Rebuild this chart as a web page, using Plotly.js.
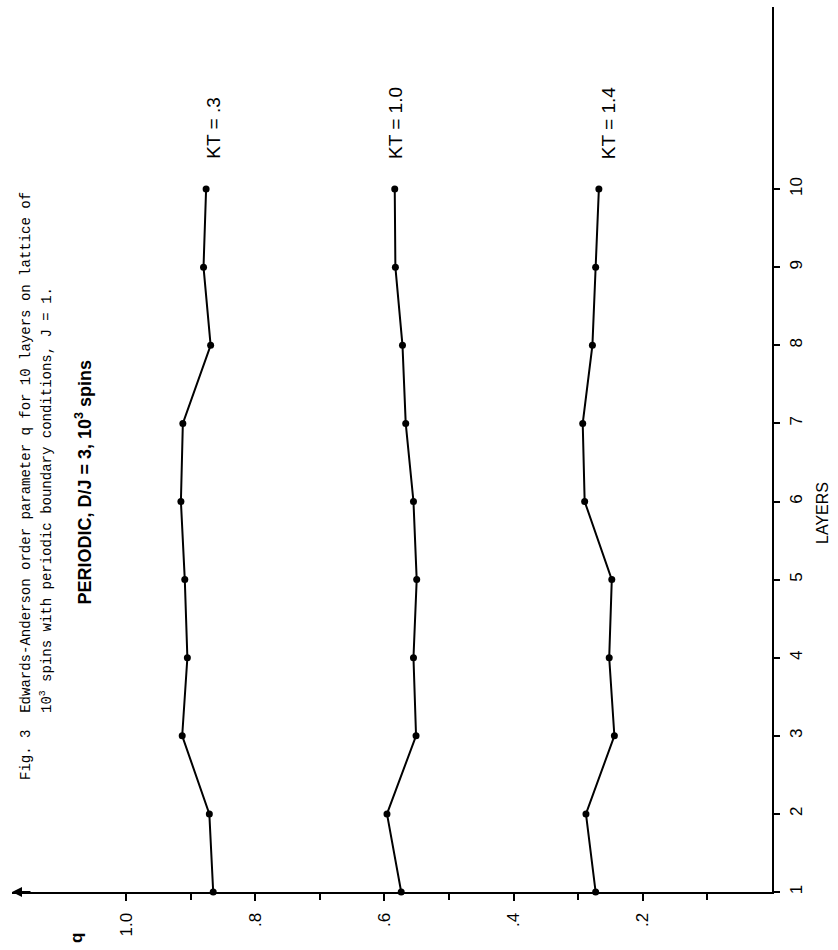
<!DOCTYPE html>
<html>
<head>
<meta charset="utf-8">
<script src="https://cdn.plot.ly/plotly-3.0.1.min.js"></script>
<style>html,body{margin:0;padding:0;background:#fff;}#chart{width:838px;height:950px;}</style>
</head>
<body>
<div id="chart"></div>
<script>
// ---- data ----
const layers = [1, 2, 3, 4, 5, 6, 7, 8, 9, 10];
const q_kt03 = [0.865, 0.871, 0.913, 0.905, 0.909, 0.915, 0.912, 0.869, 0.880, 0.876];
const q_kt10 = [0.574, 0.596, 0.551, 0.555, 0.550, 0.555, 0.567, 0.572, 0.583, 0.584];
const q_kt14 = [0.273, 0.288, 0.244, 0.252, 0.248, 0.290, 0.293, 0.278, 0.273, 0.268];
const seriesLabels = ['KT = .3', 'KT = 1.0', 'KT = 1.4'];
const labelQ = [0.865, 0.582, 0.252];
const labelLayer = 10.36;
const qTickVals = [0.2, 0.4, 0.6, 0.8, 1.0];
const qTickText = ['.2', '.4', '.6', '.8', '1.0'];
const qMinorVals = [0.1, 0.3, 0.5, 0.7, 0.9];
const layerTickVals = [1, 2, 3, 4, 5, 6, 7, 8, 9, 10];
const layerTickText = ['1', '2', '3', '4', '5', '6', '7', '8', '9', '10'];

// ---- layout geometry ----
const W = 838, H = 950, ML = 12, MR = 66, MT = 7, MB = 58;
const PW = W - ML - MR, PH = H - MT - MB;
function px(x) { return (x - ML) / PW; }
function py(y) { return (H - MB - y) / PH; }

const SANS = 'Liberation Sans, Arial, Helvetica, sans-serif';
const MONO = 'Liberation Mono, Courier New, monospace';
const INK = '#000';

const lineStyle = {color: INK, width: 2};
const markerStyle = {color: INK, size: 7, symbol: 'circle'};
const qs = [q_kt03, q_kt10, q_kt14];
const traces = qs.map((q, i) => ({
  type: 'scatter', mode: 'lines+markers', x: q, y: layers,
  line: lineStyle, marker: markerStyle, cliponaxis: false,
  name: seriesLabels[i], showlegend: false, hoverinfo: 'x+y'
}));

const annotations = [];
seriesLabels.forEach((t, i) => {
  annotations.push({x: labelQ[i], y: labelLayer, xref: 'x', yref: 'y', text: t,
    textangle: -90, showarrow: false, xanchor: 'center', yanchor: 'bottom',
    font: {family: SANS, size: 19, color: INK}});
});
// caption
annotations.push({x: px(26), y: py(782), xref: 'paper', yref: 'paper',
  text: 'Fig. 3&nbsp;&nbsp;Edwards-Anderson order parameter q for 10 layers on lattice of',
  textangle: -90, showarrow: false, xanchor: 'center', yanchor: 'bottom',
  font: {family: MONO, size: 14, color: INK}});
annotations.push({x: px(46), y: py(715), xref: 'paper', yref: 'paper',
  text: '10<sup>3</sup> spins with periodic boundary conditions, J = 1.',
  textangle: -90, showarrow: false, xanchor: 'center', yanchor: 'bottom',
  font: {family: MONO, size: 14, color: INK}});
annotations.push({x: px(84), y: py(607), xref: 'paper', yref: 'paper',
  text: '<b>PERIODIC, D/J = 3, 10<sup>3</sup> spins</b>',
  textangle: -90, showarrow: false, xanchor: 'center', yanchor: 'bottom',
  font: {family: SANS, size: 18, color: INK}});
// axis titles
annotations.push({x: px(77), y: py(938), xref: 'paper', yref: 'paper', text: '<b>q</b>',
  textangle: -90, showarrow: false, xanchor: 'center', yanchor: 'middle',
  font: {family: SANS, size: 17, color: INK}});
annotations.push({x: px(822), y: py(513), xref: 'paper', yref: 'paper', text: 'LAYERS',
  textangle: -90, showarrow: false, xanchor: 'center', yanchor: 'middle',
  font: {family: SANS, size: 16, color: INK}});
// arrow at the open end of the q axis
annotations.push({x: 0, y: 0, xref: 'paper', yref: 'paper', text: '', showarrow: true,
  ax: 20, ay: 0, arrowhead: 2, arrowsize: 1, arrowwidth: 2, arrowcolor: INK, standoff: 0});

const layout = {
  width: W, height: H,
  margin: {l: ML, r: MR, t: MT, b: MB, pad: 0},
  paper_bgcolor: '#fff', plot_bgcolor: '#fff',
  showlegend: false,
  xaxis: {
    range: [(W - MR - ML) / 646, 0],
    tickvals: qTickVals, ticktext: qTickText, tickangle: -90,
    ticks: 'outside', ticklen: 7, tickwidth: 2, tickcolor: INK,
    minor: {tickvals: qMinorVals, ticks: 'outside', ticklen: 6, tickwidth: 2, tickcolor: INK, showgrid: false},
    ticklabelstandoff: 5,
    showline: true, linecolor: INK, linewidth: 2,
    showgrid: false, zeroline: false,
    tickfont: {family: SANS, size: 17, color: INK}
  },
  yaxis: {
    range: [1, 1 + PH / 78.1], side: 'right',
    tickvals: layerTickVals, ticktext: layerTickText, tickangle: -90,
    ticks: 'outside', ticklen: 6, tickwidth: 2, tickcolor: INK,
    ticklabelstandoff: 2,
    showline: true, linecolor: INK, linewidth: 2,
    showgrid: false, zeroline: false,
    tickfont: {family: SANS, size: 17, color: INK}
  },
  annotations: annotations
};

Plotly.newPlot('chart', traces, layout, {displayModeBar: false, staticPlot: true});
</script>
</body>
</html>
